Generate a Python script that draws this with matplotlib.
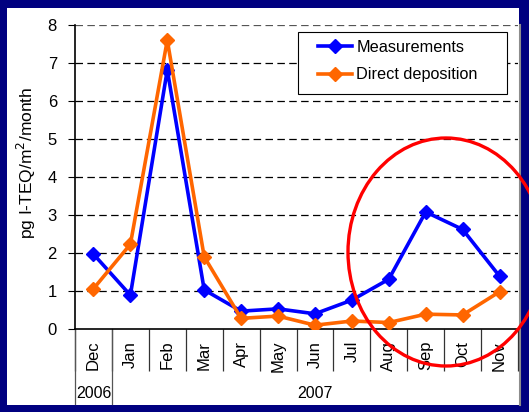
#!/usr/bin/env python3
"""Dioxin deposition: measurements vs. direct deposition, Dec 2006 - Nov 2007."""

import matplotlib
matplotlib.use("Agg")
import matplotlib.pyplot as plt
from matplotlib.patches import Rectangle, Ellipse
from matplotlib.lines import Line2D
from matplotlib.transforms import blended_transform_factory

MONTHS = ["Dec", "Jan", "Feb", "Mar", "Apr", "May", "Jun",
          "Jul", "Aug", "Sep", "Oct", "Nov"]
YEARS = ["2006", "2007"]
MEASUREMENTS = [1.97, 0.89, 6.82, 1.03, 0.47, 0.53, 0.40, 0.76, 1.31, 3.08, 2.62, 1.39]
DIRECT_DEP = [1.06, 2.23, 7.60, 1.90, 0.28, 0.34, 0.10, 0.21, 0.17, 0.39, 0.37, 0.98]

W, H = 529, 412
NAVY = "#000080"
BLUE = "#0000ff"
ORANGE = "#ff6600"

plt.rcParams["font.family"] = ["Liberation Sans", "DejaVu Sans"]


def px(x, y):
    # pixel (top-left origin) -> figure fraction
    return x / W, 1 - y / H


fig = plt.figure(figsize=(W / 100, H / 100), dpi=100, facecolor=NAVY)

# white slide panel + thin grey shadow on the right
fig.add_artist(Rectangle(px(7, 405), 512 / W, 397 / H, transform=fig.transFigure,
                         facecolor="white", edgecolor="none", zorder=-5))
fig.add_artist(Line2D([520 / W, 520 / W], [1 - 25 / H, 1 - 405 / H],
                      color="#8c8c8c", lw=1.5, transform=fig.transFigure, zorder=-4))

left, top = px(75, 25)
right, bottom = px(518, 329)
ax = fig.add_axes([left, bottom, right - left, top - bottom])
ax.set_facecolor("none")

x = list(range(len(MONTHS)))
ax.plot(x, MEASUREMENTS, color=BLUE, lw=2.6, marker="D", markersize=7.5,
        label="Measurements", zorder=3)
ax.plot(x, DIRECT_DEP, color=ORANGE, lw=2.6, marker="D", markersize=7.5,
        label="Direct deposition", zorder=4)

ax.set_xlim(-0.5, len(MONTHS) - 0.5)
ax.set_ylim(0, 8)
ax.set_yticks(range(0, 9))
ax.tick_params(axis="y", direction="out", length=5, width=0.8, labelsize=12, pad=8)
ax.set_ylabel("pg I-TEQ/m$^2$/month", fontsize=12.5)
ax.yaxis.set_label_coords((38 - 75) / 443, 0.548)

for v in range(1, 9):
    ax.axhline(v, color="black" if v < 8 else "#555555", lw=0.9,
               dashes=(6, 3.5), zorder=1)

for s in ["top", "right"]:
    ax.spines[s].set_visible(False)
ax.spines["left"].set_linewidth(1.2)
ax.spines["bottom"].set_linewidth(1.2)

# category labels with separator ticks
ax.set_xticks(x)
ax.set_xticklabels(MONTHS, rotation=90, fontsize=12)
ax.tick_params(axis="x", which="major", length=0, pad=8.5)
ax.set_xticks([i - 0.5 for i in x] + [len(MONTHS) - 0.5], minor=True)
ax.tick_params(axis="x", which="minor", length=30, width=0.9, color="#333333")

# year row
trans = blended_transform_factory(ax.transData, ax.transAxes)
ybot = (329 - 404) / 304
for xv in [-0.5, 0.5]:
    ax.add_line(Line2D([xv, xv], [0, ybot], color="#555555", lw=0.9,
                       transform=trans, clip_on=False))
ax.text(0, (329 - 394) / 304, YEARS[0], transform=trans, ha="center",
        va="center", fontsize=11.5)
ax.text((0.5 + len(MONTHS) - 0.5) / 2, (329 - 394) / 304, YEARS[1],
        transform=trans, ha="center", va="center", fontsize=11.5)

# legend: frame drawn separately so the inner padding matches
ax.add_patch(Rectangle(px(298, 94), 209 / W, 62 / H, transform=fig.transFigure,
                       facecolor="white", edgecolor="black", lw=0.8,
                       clip_on=False, zorder=4.9))
leg = ax.legend(loc="upper left", bbox_to_anchor=px(318, 40),
                bbox_transform=fig.transFigure, fontsize=11.7, frameon=False,
                handlelength=2.1, borderpad=0, labelspacing=0.75,
                handletextpad=0.25, borderaxespad=0)

# red highlight ellipse
cx, cy = px(446, 252)
fig.add_artist(Ellipse((cx, cy), 196 / W, 228 / H, transform=fig.transFigure,
                       facecolor="none", edgecolor="#ff0000", lw=2.4,
                       clip_on=False, zorder=10))

fig.savefig("out.png", dpi=100, facecolor=NAVY)
